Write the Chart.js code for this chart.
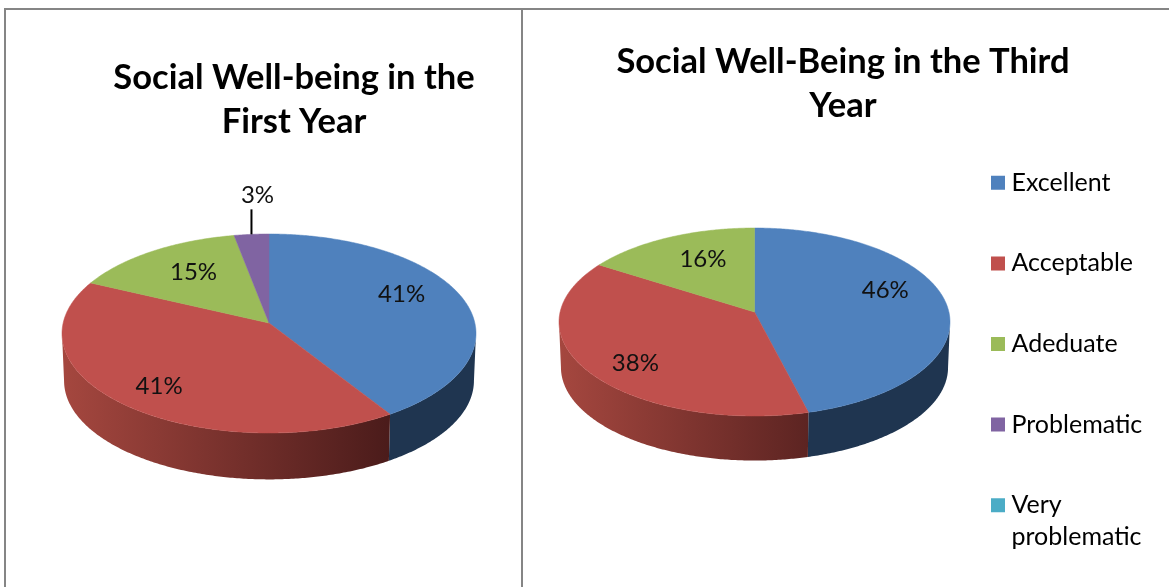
<!DOCTYPE html>
<html>
<head>
<meta charset="utf-8">
<title>Social Well-being</title>
<script src="https://cdn.jsdelivr.net/npm/chart.js@4/dist/chart.umd.min.js"></script>
<style>
  html, body { margin: 0; padding: 0; background: #fff; overflow: hidden; }
  #page { position: relative; width: 1169px; height: 587px; overflow: hidden; }
  canvas { position: absolute; top: 0; }
  #firstYear { left: 0; }
  #thirdYear { left: 524px; }
  .rule { position: absolute; background: #858585; }
</style>
</head>
<body>
<div id="page">
  <canvas id="firstYear" width="522" height="587"></canvas>
  <canvas id="thirdYear" width="645" height="587"></canvas>
  <div class="rule" style="left:4px;top:8px;width:1165px;height:2px"></div>
  <div class="rule" style="left:4px;top:8px;width:2px;height:579px"></div>
  <div class="rule" style="left:521px;top:8px;width:2px;height:579px"></div>
</div>
<script>
const categories = ['Excellent', 'Acceptable', 'Adeduate', 'Problematic', 'Very problematic'];
const legendLabels = ['Excellent', 'Acceptable', 'Adeduate', 'Problematic', ['Very', 'problematic']];
const firstYearValues = [41, 41, 15, 3, 0];
const thirdYearValues = [46, 38, 16, 0, 0];
const firstYearTitle = ['Social Well-being in the', 'First Year'];
const thirdYearTitle = ['Social Well-Being in the Third', 'Year'];

const SLICE_COLORS = ['#4F81BD', '#C0504D', '#9BBB59', '#8064A2', '#4BACC6'];
// Wall shading runs left to right over the width of the pie
const WALL_LEFT = ['#1F3550', '#A5473F', '#5F7235', '#4D3C62', '#2D6A7A'];
const WALL_RIGHT = ['#1F3550', '#331011', '#333D1C', '#2A2136', '#183A43'];
const FONT = 'Lato, Carlito, Calibri, sans-serif';

/**
 * Tilted pie with a side wall. The top face is a circle under a
 * perspective projection, so the hub sits above the middle of the ellipse.
 */
const pie3d = {
  id: 'pie3d',

  // Title and legend sit at fixed spots, away from the chart area
  afterLayout(chart, args, opts) {
    const title = chart.titleBlock;
    const lineHeight = Chart.helpers.toFont(title.options.font).lineHeight;
    title.left = opts.titleX - 320;
    title.right = opts.titleX + 320;
    title.top = opts.titleY - lineHeight / 2;

    if (chart.legend && chart.legend.options.display) {
      const pad = chart.legend.options.labels.padding;
      chart.legend.left = opts.legendX - pad;
      chart.legend.right = chart.width + 100;
      chart.legend.top = opts.legendY - pad;
      chart.legend.bottom = chart.height + 200;
    }
  },

  beforeDatasetsDraw(chart, args, opts) {
    const ctx = chart.ctx;
    const arcs = chart.getDatasetMeta(0).data;
    const values = chart.data.datasets[0].data;

    const above = opts.hubY - opts.top;
    const below = opts.bottom - opts.hubY;
    const k = (below - above) / (below + above);
    const spanY = above * (1 + k);
    const spanX = opts.halfWidth * Math.sqrt(1 - k * k);
    // Angle where the rim is at its widest, the wall starts there
    const widest = Math.asin(k);

    const project = (angle, frac = 1, shrink = 1, drop = 0) => {
      const px = Math.cos(angle) * frac;
      const py = Math.sin(angle) * frac;
      const w = 1 - k * py;
      return {
        x: opts.hubX + (shrink * spanX * px) / w,
        y: opts.hubY + drop + (shrink * spanY * py) / w,
      };
    };

    const trace = (from, to, shrink, drop, first) => {
      const steps = Math.max(2, Math.ceil(Math.abs(to - from) / 0.01));
      for (let i = 0; i <= steps; i++) {
        const p = project(from + ((to - from) * i) / steps, 1, shrink, drop);
        if (first && i === 0) ctx.moveTo(p.x, p.y);
        else ctx.lineTo(p.x, p.y);
      }
    };

    ctx.save();

    // Side walls, only the front half can be seen
    arcs.forEach((arc, i) => {
      const from = Math.max(arc.startAngle, widest);
      const to = Math.min(arc.endAngle, Math.PI - widest);
      if (values[i] === 0 || to <= from) return;
      const grad = ctx.createLinearGradient(opts.hubX - opts.halfWidth, 0, opts.hubX + opts.halfWidth, 0);
      grad.addColorStop(0, WALL_LEFT[i]);
      grad.addColorStop(1, WALL_RIGHT[i]);
      ctx.beginPath();
      trace(from, to, 1, 0, true);
      trace(to, from, opts.wallShrink, opts.depth, false);
      ctx.closePath();
      ctx.fillStyle = grad;
      ctx.fill();
    });

    // Top face
    arcs.forEach((arc, i) => {
      if (values[i] === 0) return;
      ctx.beginPath();
      ctx.moveTo(opts.hubX, opts.hubY);
      trace(arc.startAngle, arc.endAngle, 1, 0, false);
      ctx.closePath();
      ctx.fillStyle = SLICE_COLORS[i];
      ctx.strokeStyle = SLICE_COLORS[i];
      ctx.lineWidth = 0.5;
      ctx.fill();
      ctx.stroke();
    });

    // Percentage labels, small slices get a leader line
    ctx.font = `24px ${FONT}`;
    ctx.textAlign = 'center';
    ctx.textBaseline = 'middle';
    arcs.forEach((arc, i) => {
      if (values[i] === 0) return;
      const mid = (arc.startAngle + arc.endAngle) / 2;
      const frac = opts.labelRadius[i];
      const p = project(mid, frac);
      if (frac >= 1) {
        ctx.beginPath();
        ctx.moveTo(p.x, p.y);
        ctx.lineTo(p.x, p.y - opts.leader);
        ctx.strokeStyle = '#000';
        ctx.lineWidth = 2;
        ctx.stroke();
      }
      ctx.fillStyle = '#111';
      ctx.fillText(`${values[i]}%`, p.x + opts.labelShift[i][0], p.y + opts.labelShift[i][1]);
    });

    ctx.restore();
    return false;
  },
};

function makeChart(id, title, values, pieOptions, showLegend) {
  return new Chart(document.getElementById(id), {
    type: 'pie',
    data: {
      labels: categories,
      datasets: [{ data: values, backgroundColor: SLICE_COLORS, borderWidth: 0 }],
    },
    plugins: [pie3d],
    options: {
      responsive: false,
      animation: false,
      plugins: {
        pie3d: pieOptions,
        tooltip: { enabled: false },
        title: {
          display: true,
          text: title,
          color: '#000',
          padding: 0,
          font: { family: FONT, size: 34.5, weight: 'bold', lineHeight: 44 / 34.5 },
        },
        legend: {
          display: showLegend,
          position: 'right',
          align: 'start',
          labels: {
            color: '#1a1a1a',
            padding: 55.6,
            boxWidth: 2,
            boxHeight: 2,
            font: { family: FONT, size: 25, lineHeight: 32 / 25 },
            generateLabels: () =>
              legendLabels.map((text, i) => ({
                text,
                index: i,
                hidden: false,
                fillStyle: SLICE_COLORS[i],
                strokeStyle: SLICE_COLORS[i],
                lineWidth: 12,
                lineJoin: 'miter',
              })),
          },
        },
      },
    },
  });
}

makeChart('firstYear', firstYearTitle, firstYearValues, {
  hubX: 269, hubY: 323, top: 234, bottom: 433, halfWidth: 207,
  depth: 47.5, wallShrink: 0.99, leader: 25,
  titleX: 294, titleY: 78, legendX: 0, legendY: 0,
  labelRadius: [0.7, 0.7, 0.7, 1, 0.7],
  labelShift: [[-3, -10], [-9, 9], [8, 1], [6, -39], [0, 0]],
}, false);

makeChart('thirdYear', thirdYearTitle, thirdYearValues, {
  hubX: 230.5, hubY: 312, top: 228, bottom: 416, halfWidth: 195.5,
  depth: 45.6, wallShrink: 0.99, leader: 25,
  titleX: 319, titleY: 62, legendX: 473, legendY: 170.3,
  labelRadius: [0.7, 0.7, 0.7, 0.7, 0.7],
  labelShift: [[-3, -14], [-4, 11], [10, 1], [0, 0], [0, 0]],
}, true);
</script>
</body>
</html>
